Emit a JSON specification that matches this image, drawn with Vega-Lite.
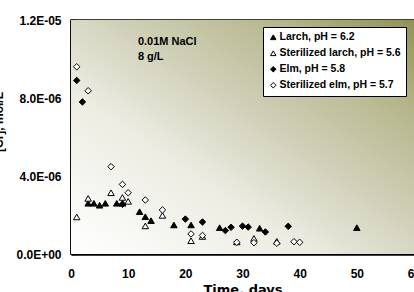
{
  "$schema": "https://vega.github.io/schema/vega-lite/v6.json",
  "width": 343,
  "height": 234,
  "autosize": {"type": "none"},
  "padding": {"left": 71, "top": 20, "right": 0, "bottom": 38},
  "background": "white",
  "view": {"stroke": "black", "strokeWidth": 1.5},
  "config": {"font": "Liberation Sans"},
  "layer": [
    {
      "data": {"values": [{"bg": "plot"}]},
      "mark": {
        "type": "rect",
        "fill": {
          "gradient": "linear",
          "x1": 0, "y1": 1, "x2": 1, "y2": 0,
          "stops": [
            {"offset": 0, "color": "#ffffff"},
            {"offset": 0.35, "color": "#ececE2"},
            {"offset": 0.55, "color": "#d2d2bc"},
            {"offset": 0.8, "color": "#b6b68c"},
            {"offset": 1, "color": "#919156"}
          ]
        }
      },
      "encoding": {}
    },
    {
      "data": {
        "values": [
          {"series": "Larch, pH = 6.2", "day": 3, "cr": 2.6e-6},
          {"series": "Larch, pH = 6.2", "day": 4, "cr": 2.6e-6},
          {"series": "Larch, pH = 6.2", "day": 5, "cr": 2.5e-6},
          {"series": "Larch, pH = 6.2", "day": 6, "cr": 2.6e-6},
          {"series": "Larch, pH = 6.2", "day": 8, "cr": 2.6e-6},
          {"series": "Larch, pH = 6.2", "day": 9, "cr": 2.6e-6},
          {"series": "Larch, pH = 6.2", "day": 12, "cr": 2.17e-6},
          {"series": "Larch, pH = 6.2", "day": 13, "cr": 1.91e-6},
          {"series": "Larch, pH = 6.2", "day": 14, "cr": 1.71e-6},
          {"series": "Larch, pH = 6.2", "day": 18, "cr": 1.49e-6},
          {"series": "Larch, pH = 6.2", "day": 21, "cr": 1.49e-6},
          {"series": "Larch, pH = 6.2", "day": 26, "cr": 1.35e-6},
          {"series": "Larch, pH = 6.2", "day": 33, "cr": 1.32e-6},
          {"series": "Larch, pH = 6.2", "day": 50, "cr": 1.35e-6},
          {"series": "Sterilized larch, pH = 5.6", "day": 1, "cr": 1.9e-6},
          {"series": "Sterilized larch, pH = 5.6", "day": 3, "cr": 2.85e-6},
          {"series": "Sterilized larch, pH = 5.6", "day": 7, "cr": 3.14e-6},
          {"series": "Sterilized larch, pH = 5.6", "day": 9, "cr": 2.9e-6},
          {"series": "Sterilized larch, pH = 5.6", "day": 10, "cr": 2.7e-6},
          {"series": "Sterilized larch, pH = 5.6", "day": 13, "cr": 1.44e-6},
          {"series": "Sterilized larch, pH = 5.6", "day": 16, "cr": 1.98e-6},
          {"series": "Sterilized larch, pH = 5.6", "day": 21, "cr": 0.68e-6},
          {"series": "Sterilized larch, pH = 5.6", "day": 23, "cr": 0.9e-6},
          {"series": "Sterilized larch, pH = 5.6", "day": 29, "cr": 0.62e-6},
          {"series": "Sterilized larch, pH = 5.6", "day": 32, "cr": 0.8e-6},
          {"series": "Sterilized larch, pH = 5.6", "day": 36, "cr": 0.65e-6},
          {"series": "Elm, pH = 5.8", "day": 1, "cr": 8.9e-6},
          {"series": "Elm, pH = 5.8", "day": 2, "cr": 7.8e-6},
          {"series": "Elm, pH = 5.8", "day": 9, "cr": 2.55e-6},
          {"series": "Elm, pH = 5.8", "day": 20, "cr": 1.79e-6},
          {"series": "Elm, pH = 5.8", "day": 23, "cr": 1.64e-6},
          {"series": "Elm, pH = 5.8", "day": 27, "cr": 1.2e-6},
          {"series": "Elm, pH = 5.8", "day": 28, "cr": 1.37e-6},
          {"series": "Elm, pH = 5.8", "day": 30, "cr": 1.43e-6},
          {"series": "Elm, pH = 5.8", "day": 31, "cr": 1.38e-6},
          {"series": "Elm, pH = 5.8", "day": 34, "cr": 1.13e-6},
          {"series": "Elm, pH = 5.8", "day": 38, "cr": 1.42e-6},
          {"series": "Sterilized elm, pH = 5.7", "day": 1, "cr": 9.6e-6},
          {"series": "Sterilized elm, pH = 5.7", "day": 3, "cr": 8.37e-6},
          {"series": "Sterilized elm, pH = 5.7", "day": 7, "cr": 4.48e-6},
          {"series": "Sterilized elm, pH = 5.7", "day": 9, "cr": 3.57e-6},
          {"series": "Sterilized elm, pH = 5.7", "day": 10, "cr": 3.14e-6},
          {"series": "Sterilized elm, pH = 5.7", "day": 13, "cr": 2.77e-6},
          {"series": "Sterilized elm, pH = 5.7", "day": 16, "cr": 2.26e-6},
          {"series": "Sterilized elm, pH = 5.7", "day": 21, "cr": 1.03e-6},
          {"series": "Sterilized elm, pH = 5.7", "day": 23, "cr": 0.95e-6},
          {"series": "Sterilized elm, pH = 5.7", "day": 29, "cr": 0.6e-6},
          {"series": "Sterilized elm, pH = 5.7", "day": 32, "cr": 0.58e-6},
          {"series": "Sterilized elm, pH = 5.7", "day": 36, "cr": 0.55e-6},
          {"series": "Sterilized elm, pH = 5.7", "day": 39, "cr": 0.63e-6},
          {"series": "Sterilized elm, pH = 5.7", "day": 40, "cr": 0.6e-6}
        ]
      },
      "mark": {"type": "point", "filled": true, "strokeWidth": 1, "opacity": 1, "size": 42},
      "encoding": {
        "x": {
          "field": "day", "type": "quantitative",
          "scale": {"domain": [0, 60], "nice": false},
          "axis": {
            "values": [0, 10, 20, 30, 40, 50, 60],
            "grid": false,
            "domainColor": "black", "domainWidth": 2.5,
            "tickColor": "black", "tickSize": -4, "tickWidth": 1.5,
            "labelFontSize": 12, "labelFontWeight": "bold", "labelColor": "black",
            "labelPadding": 18, "labelFlush": false, "labelBaseline": "top",
            "title": "Time, days",
            "titleFont": "DejaVu Sans", "titleFontSize": 13, "titleFontWeight": "bold", "titleColor": "black",
            "titleX": 171.5, "titleY": 39.5, "titleBaseline": "alphabetic", "titleAlign": "center"
          }
        },
        "y": {
          "field": "cr", "type": "quantitative",
          "scale": {"domain": [0, 1.2e-5], "nice": false},
          "axis": {
            "values": [0, 4e-6, 8e-6, 1.2e-5],
            "grid": true, "gridColor": "white", "gridWidth": 1, "gridOpacity": 1,
            "domainColor": "black", "domainWidth": 2.5,
            "tickColor": "black", "tickSize": -4, "tickWidth": 1.5,
            "labelFontSize": 12, "labelFontWeight": "bold", "labelColor": "black",
            "labelPadding": 14,
            "labelExpr": "datum.value == 0 ? '0.0E+00' : replace(replace(upper(format(datum.value, '.1e')), 'E-', 'E-0'), 'E\u2212', 'E-0')",
            "title": "[Cr], mol/L",
            "titleFontSize": 12, "titleFontWeight": "bold", "titleColor": "black",
            "titleAngle": 270, "titleX": -69, "titleY": 101.5, "titleBaseline": "alphabetic", "titleAlign": "center"
          }
        },
        "shape": {
          "field": "series", "type": "nominal",
          "scale": {
            "domain": ["Larch, pH = 6.2", "Sterilized larch, pH = 5.6", "Elm, pH = 5.8", "Sterilized elm, pH = 5.7"],
            "range": ["triangle-up", "triangle-up", "diamond", "diamond"]
          },
          "legend": {
            "title": null, "orient": "none", "legendX": 192, "legendY": 7,
            "padding": 5, "fillColor": "white", "strokeColor": "black",
            "labelFontSize": 10.5, "labelFontWeight": "bold", "labelColor": "black",
            "labelOffset": 1, "rowPadding": 5, "symbolSize": 30, "symbolStrokeWidth": 1
          }
        },
        "fill": {
          "field": "series", "type": "nominal",
          "scale": {
            "domain": ["Larch, pH = 6.2", "Sterilized larch, pH = 5.6", "Elm, pH = 5.8", "Sterilized elm, pH = 5.7"],
            "range": ["black", "white", "black", "white"]
          },
          "legend": {
            "title": null, "orient": "none", "legendX": 192, "legendY": 7,
            "padding": 5, "fillColor": "white", "strokeColor": "black",
            "labelFontSize": 10.5, "labelFontWeight": "bold", "labelColor": "black",
            "labelOffset": 1, "rowPadding": 5, "symbolSize": 30, "symbolStrokeWidth": 1
          }
        },
        "stroke": {
          "field": "series", "type": "nominal",
          "scale": {
            "domain": ["Larch, pH = 6.2", "Sterilized larch, pH = 5.6", "Elm, pH = 5.8", "Sterilized elm, pH = 5.7"],
            "range": ["black", "black", "black", "black"]
          },
          "legend": {
            "title": null, "orient": "none", "legendX": 192, "legendY": 7,
            "padding": 5, "fillColor": "white", "strokeColor": "black",
            "labelFontSize": 10.5, "labelFontWeight": "bold", "labelColor": "black",
            "labelOffset": 1, "rowPadding": 5, "symbolSize": 30, "symbolStrokeWidth": 1
          }
        }
      }
    },
    {
      "data": {
        "values": [
          {"x": 11.7, "y": 1.087e-5, "label": "0.01M NaCl"},
          {"x": 11.7, "y": 1.01e-5, "label": "8 g/L"}
        ]
      },
      "mark": {"type": "text", "align": "left", "baseline": "middle", "fontSize": 11, "fontWeight": "bold", "color": "black"},
      "encoding": {
        "x": {"field": "x", "type": "quantitative"},
        "y": {"field": "y", "type": "quantitative"},
        "text": {"field": "label"}
      }
    }
  ]
}
